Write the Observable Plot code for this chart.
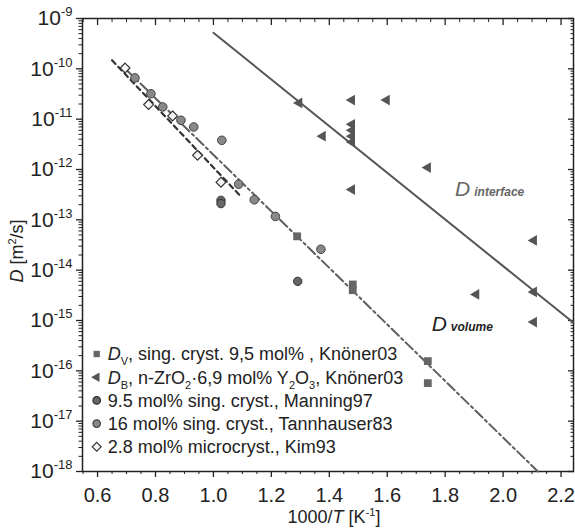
<!DOCTYPE html>
<html><head><meta charset="utf-8">
<script src="https://cdn.jsdelivr.net/npm/d3@7"></script>
<script src="https://cdn.jsdelivr.net/npm/@observablehq/plot@0.6"></script>
<style>
body{margin:0;background:#fff;}
#chart svg{display:block;}
</style>
</head><body><div id="chart"></div>
<script>
// ---- data ----
// D_V, single crystal 9.5 mol%, Knöner03 (squares)
const dvX = [1.289, 1.481, 1.481, 1.740, 1.740];
const dvD = [4.7e-14, 5.2e-15, 4.0e-15, 1.56e-16, 5.7e-17];
// D_B, n-ZrO2 6.9 mol% Y2O3, Knöner03 (left triangles)
const dbX = [1.296, 1.478, 1.598, 1.377, 1.478, 1.478, 1.478, 1.478, 1.478, 1.740, 2.106, 2.106, 1.907, 2.106];
const dbD = [2.1e-11, 2.4e-11, 2.4e-11, 4.6e-12, 7.9e-12, 6.0e-12, 4.6e-12, 3.5e-12, 4.0e-13, 1.09e-12, 3.9e-14, 3.7e-15, 3.3e-15, 9.3e-16];
// 9.5 mol% single crystal, Manning97 (dark circles)
const manX = [1.026, 1.026, 1.291];
const manD = [2.44e-13, 2.1e-13, 6.0e-15];
// 16 mol% single crystal, Tannhauser83 (grey circles)
const tanX = [0.729, 0.784, 0.825, 0.888, 0.932, 1.029, 1.087, 1.141, 1.214, 1.371];
const tanD = [6.6e-11, 3.2e-11, 1.75e-11, 9.5e-12, 7.0e-12, 3.8e-12, 5.1e-13, 2.5e-13, 1.17e-13, 2.6e-14];
// 2.8 mol% microcrystalline, Kim93 (open diamonds)
const kimX = [0.695, 0.776, 0.859, 0.945, 1.026];
const kimD = [1.04e-10, 1.95e-11, 1.16e-11, 1.91e-12, 5.6e-13];
// fitted lines (end points)
const fitIfX = [1.0, 2.243];   const fitIfD = [5.2e-10, 9.0e-16];
const fitVolX = [0.70, 2.12];  const fitVolD = [9.5e-11, 1.0e-18];
const fitKimX = [0.65, 1.095]; const fitKimD = [1.48e-10, 2.9e-13];
// axis ticks
const xMajor = [0.6, 0.8, 1.0, 1.2, 1.4, 1.6, 1.8, 2.0, 2.2];
const xMinor = d3.range(11, 45).filter(i => i % 4 !== 0).map(i => i * 0.05);
const yExp = [-18, -17, -16, -15, -14, -13, -12, -11, -10, -9];
const yMajor = yExp.map(e => Math.pow(10, e));
const yMinor = yExp.slice(0, -1).flatMap(e => [2,3,4,5,6,7,8,9].map(k => k * Math.pow(10, e)));
// legend labels (segments)
const legendLabels = [
  [{t:"D", it:1},{t:"V", sub:1},{t:", sing. cryst. 9,5 mol% , Knöner03"}],
  [{t:"D", it:1},{t:"B", sub:1},{t:", n-ZrO"},{t:"2", sub:1},{t:"·6,9 mol% Y"},{t:"2", sub:1},{t:"O"},{t:"3", sub:1},{t:", Knöner03"}],
  [{t:"9.5 mol% sing. cryst., Manning97"}],
  [{t:"16 mol% sing. cryst., Tannhauser83"}],
  [{t:"2.8 mol% microcryst., Kim93"}]
];
const annotations = [
  {main:"D", small:"interface", x:1.836, D:2.9e-13, color:"#666"},
  {main:"D", small:"volume", x:1.755, D:6.0e-16, color:"#222"}
];

const rows = (xs, ds) => xs.map((x, i) => ({x, D: ds[i]}));
const dv = rows(dvX, dvD), db = rows(dbX, dbD), man = rows(manX, manD),
      tan = rows(tanX, tanD), kim = rows(kimX, kimD);
const fitIf = rows(fitIfX, fitIfD), fitVol = rows(fitVolX, fitVolD), fitKim = rows(fitKimX, fitKimD);

const FONT = "'Liberation Sans', Arial, Helvetica, sans-serif";
const ink = "#222";

const plot = Plot.plot({
  width: 575, height: 531,
  marginLeft: 82, marginRight: 2, marginTop: 18, marginBottom: 60,
  style: {fontFamily: FONT, background: "#fff", color: ink},
  x: {domain: [0.548, 2.243], label: null},
  y: {type: "log", domain: [1e-18, 1e-9], label: null},
  marks: [
    Plot.axisX(xMajor, {anchor: "bottom", tickSize: 6, tickPadding: 10, tickFormat: d => d.toFixed(1), fontSize: 20, label: null, stroke: ink, strokeWidth: 1.3}),
    Plot.axisX(xMinor, {anchor: "bottom", tickSize: 3, tickFormat: () => "", label: null, stroke: ink}),
    Plot.axisX(xMajor, {anchor: "top", tickSize: -6, tickFormat: () => "", label: null, stroke: ink, strokeWidth: 1.3}),
    Plot.axisX(xMinor, {anchor: "top", tickSize: -3, tickFormat: () => "", label: null, stroke: ink}),
    Plot.axisY(yMajor, {anchor: "left", tickSize: 6, tickPadding: 4, tickFormat: d => "1e" + Math.round(Math.log10(d)), fontSize: 21, label: null, stroke: ink, strokeWidth: 1.3}),
    Plot.axisY(yMinor, {anchor: "left", tickSize: 3.5, tickFormat: () => "", label: null, stroke: ink}),
    Plot.axisY(yMajor, {anchor: "right", tickSize: -6, tickFormat: () => "", label: null, stroke: ink, strokeWidth: 1.3}),
    Plot.axisY(yMinor, {anchor: "right", tickSize: -3.5, tickFormat: () => "", label: null, stroke: ink}),
    Plot.frame({stroke: ink, strokeWidth: 1.5}),
    Plot.line(fitVol, {x: "x", y: "D", stroke: "#5e5e5e", strokeWidth: 2, strokeDasharray: "10,3.5,2.5,3.5"}),
    Plot.line(fitKim, {x: "x", y: "D", stroke: "#333", strokeWidth: 2.2, strokeDasharray: "5,4"}),
    Plot.line(fitIf, {x: "x", y: "D", stroke: "#555", strokeWidth: 2}),
    Plot.dot(dv, {x: "x", y: "D", symbol: "square", r: 4.4, fill: "#666", stroke: "none"}),
    Plot.dot(db, {x: "x", y: "D", symbol: "triangle", rotate: -90, r: 4.0, fill: "#555", stroke: "none"}),
    Plot.dot(man, {x: "x", y: "D", r: 4.2, fill: "#666", stroke: "#333", strokeWidth: 1}),
    Plot.dot(tan, {x: "x", y: "D", r: 4.3, fill: "#888", stroke: "#444", strokeWidth: 1}),
    Plot.dot(kim, {x: "x", y: "D", symbol: "diamond2", r: 4.4, fill: "#f4f4f4", stroke: "#333", strokeWidth: 1.2})
  ]
});
document.getElementById("chart").appendChild(plot);

const svg = d3.select(plot);
const sx = plot.scale("x"), sy = plot.scale("y");

function rich(sel, segs, size) {
  let shift = 0;
  for (const s of segs) {
    const ts = sel.append("tspan").text(s.t);
    const target = s.sub ? Math.round(size * 0.25) : s.sup ? -Math.round(size * 0.4) : 0;
    if (target !== shift) { ts.attr("dy", target - shift); shift = target; }
    if (s.sub || s.sup) ts.attr("font-size", Math.round(size * 0.62));
    if (s.it) ts.attr("font-style", "italic");
  }
}

// y tick labels as 10^n
svg.selectAll('g[aria-label="y-axis tick label"] text').each(function() {
  const m = /^1e(-?\d+)$/.exec(this.textContent);
  if (!m) return;
  const t = d3.select(this);
  t.text(null);
  t.append("tspan").text("10");
  t.append("tspan").attr("dy", -9).attr("font-size", 13).text(m[1]);
});

// axis titles
const gx = svg.append("text").attr("x", 334).attr("y", 523).attr("text-anchor", "middle")
  .attr("font-size", 18).attr("fill", ink).attr("font-family", FONT);
rich(gx, [{t:"1000/"},{t:"T", it:1},{t:" [K"},{t:"-1", sup:1},{t:"]"}], 18);
const gy = svg.append("text").attr("transform", "translate(23,251) rotate(-90)").attr("text-anchor", "middle")
  .attr("font-size", 18).attr("fill", ink).attr("font-family", FONT);
rich(gy, [{t:"D", it:1},{t:" [m"},{t:"2", sup:1},{t:"/s]"}], 18);

// annotations
for (const a of annotations) {
  const t = svg.append("text").attr("x", sx.apply(a.x)).attr("y", sy.apply(a.D)).attr("text-anchor", "start")
    .attr("fill", a.color).attr("font-family", FONT).attr("font-style", "italic");
  t.append("tspan").attr("font-size", 21).text(a.main);
  t.append("tspan").attr("font-size", 12).attr("font-weight", "bold").attr("dx", 4).text(a.small);
}

// legend
const lx = 96.7, ly0 = 354, ldy = 23.2;
const symbols = [
  {type: d3.symbolSquare, size: 40, fill: "#666", stroke: "none", rot: 0},
  {type: d3.symbolTriangle, size: 40, fill: "#555", stroke: "none", rot: -90},
  {type: d3.symbolCircle, size: 45, fill: "#666", stroke: "#333", rot: 0},
  {type: d3.symbolCircle, size: 45, fill: "#888", stroke: "#444", rot: 0},
  {type: d3.symbolDiamond2, size: 50, fill: "#f4f4f4", stroke: "#333", rot: 0}
];
const lg = svg.append("g").attr("font-family", FONT).attr("font-size", 18).attr("fill", ink).attr("text-anchor", "start");
legendLabels.forEach((segs, i) => {
  const y = ly0 + i * ldy;
  const s = symbols[i];
  lg.append("path").attr("d", d3.symbol(s.type, s.size)())
    .attr("transform", `translate(${lx},${y}) rotate(${s.rot})`)
    .attr("fill", s.fill).attr("stroke", s.stroke).attr("stroke-width", 1.2);
  const t = lg.append("text").attr("x", lx + 11).attr("y", y).attr("dy", "0.35em");
  rich(t, segs, 18);
});
</script></body></html>
